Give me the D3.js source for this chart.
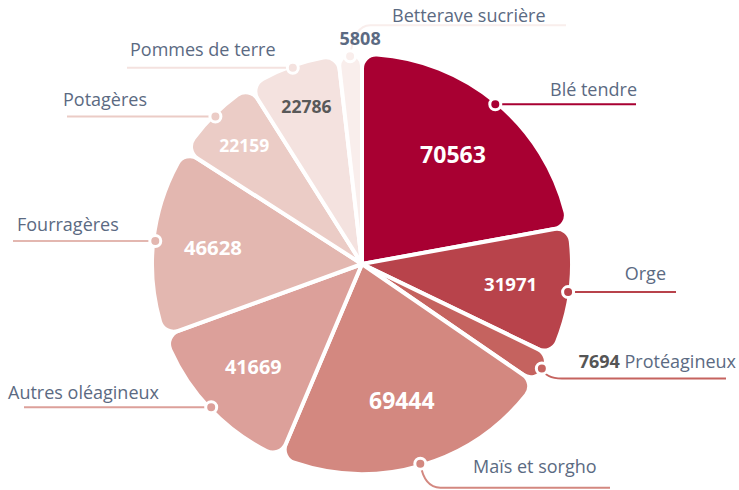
<!DOCTYPE html>
<html>
<head>
<meta charset="utf-8">
<script src="https://cdn.jsdelivr.net/npm/d3@7"></script>
<style>
	body { margin: 0; background: #fff; }
	svg { display: block; font-family: "Open Sans", sans-serif; }
</style>
</head>
<body>
<div id="chart"></div>
<script>
var cultures = ["Blé tendre", "Orge", "Protéagineux", "Maïs et sorgho", "Autres oléagineux",
	"Fourragères", "Potagères", "Pommes de terre", "Betterave sucrière"];
var surfaces = [70563, 31971, 7694, 69444, 41669, 46628, 22159, 22786, 5808];
var couleurs = ["#a80032", "#b8434b", "#c5635f", "#d38880", "#dca09a",
	"#e3b7b0", "#ebccc6", "#f4e2df", "#f9eeec"];

function init() {

	var w = 739;
	var h = 490;
	var cx = 362, cy = 264;
	var radius = 210;
	var dotRadius = 208;

	var svg = d3.select("#chart")
		.append("svg")
		.attr("width", w)
		.attr("height", h);

	var dataset = cultures.map(function(c, i) {
		return { name: c, value: surfaces[i], colour: couleurs[i] };
	});

	// how each label is laid out: line end, bend of the line, text place
	var layout = [
		{ end: 636, bend: 0, tx: 637, anchor: "end", ty: -8, value: "inside" },
		{ end: 676, bend: 0, tx: 666, anchor: "end", ty: -12, value: "inside" },
		{ end: 726, bend: 10, tx: 736, anchor: "end", ty: -10, value: "inline" },
		{ end: 610, bend: 24, tx: 473, anchor: "start", ty: -15, value: "inside" },
		{ end: 24, bend: 0, tx: 8, anchor: "start", ty: -8, value: "inside" },
		{ end: 13, bend: 0, tx: 17, anchor: "start", ty: -10, value: "inside" },
		{ end: 67, bend: 0, tx: 63, anchor: "start", ty: -10, value: "inside" },
		{ end: 127, bend: 0, tx: 130, anchor: "start", ty: -12, value: "inside" },
		{ end: 566, bend: -31, tx: 392, anchor: "start", ty: -3, value: "above" }
	];

	var pie = d3.pie()
		.sort(null)
		.value(d => d.value);

	var arcs = pie(dataset);

	var arc = d3.arc()
		.innerRadius(0)
		.outerRadius(radius)
		.cornerRadius(14);

	var fontSize = d3.scaleLinear()
		.domain([22000, 70000])
		.range([17.5, 23]);

	var g = svg.append("g")
		.attr("transform", `translate(${cx},${cy})`);

	g.selectAll("path.slice")
		.data(arcs)
		.join("path")
			.attr("class", "slice")
			.attr("d", arc)
			.attr("fill", d => d.data.colour)
			.attr("stroke", "#fff")
			.attr("stroke-width", 4)
			.attr("stroke-linejoin", "round");

	// values inside the slices
	g.selectAll("text.value")
		.data(arcs.filter((d, i) => layout[i].value == "inside"))
		.join("text")
			.attr("class", "value")
			.attr("transform", function(d) {
				var a = (d.startAngle + d.endAngle) / 2;
				var span = d.endAngle - d.startAngle;
				var r = span < Math.PI / 6 ? 167 : (span > Math.PI / 3 ? 142 : 150);
				return `translate(${r * Math.sin(a)},${-r * Math.cos(a)})`;
			})
			.attr("text-anchor", "middle")
			.attr("dy", "0.36em")
			.attr("font-weight", 700)
			.attr("font-size", d => fontSize(d.data.value))
			.attr("fill", d => d3.hsl(d.data.colour).l > 0.88 ? "#595959" : "#fff")
			.text(d => d.data.value);

	// leader lines, dots and labels
	var labels = svg.append("g");

	arcs.forEach(function(d, i) {
		var lay = layout[i];
		var a = (d.startAngle + d.endAngle) / 2;
		var x0 = cx + dotRadius * Math.sin(a);
		var y0 = cy - dotRadius * Math.cos(a);
		var ly = y0 + lay.bend;
		var dir = lay.end > x0 ? 1 : -1;
		var path;
		if (lay.bend == 0) {
			path = `M${x0},${y0}H${lay.end}`;
		} else {
			path = `M${x0},${y0}Q${x0 + dir * 4},${ly} ${x0 + dir * 20},${ly}H${lay.end}`;
		}
		labels.append("path")
			.attr("d", path)
			.attr("fill", "none")
			.attr("stroke", d.data.colour)
			.attr("stroke-width", 2);

		labels.append("circle")
			.attr("cx", x0)
			.attr("cy", y0)
			.attr("r", 5.5)
			.attr("fill", d.data.colour)
			.attr("stroke", "#fff")
			.attr("stroke-width", 3);

		var t = labels.append("text")
			.attr("x", lay.tx)
			.attr("y", ly + lay.ty)
			.attr("text-anchor", lay.anchor)
			.attr("font-size", 18)
			.attr("fill", "#5b6a82");
		if (lay.value == "inline") {
			t.append("tspan")
				.attr("font-weight", 700)
				.attr("fill", "#555")
				.text(d.data.value);
			t.append("tspan").text(" " + d.data.name);
		} else {
			t.text(d.data.name);
		}

		if (lay.value == "above") {
			labels.append("text")
				.attr("x", x0 + 10)
				.attr("y", y0 - 11)
				.attr("text-anchor", "middle")
				.attr("font-size", 18)
				.attr("font-weight", 700)
				.attr("fill", "#5b6a82")
				.text(d.data.value);
		}
	});
}

window.onload = init;
</script>
</body>
</html>
